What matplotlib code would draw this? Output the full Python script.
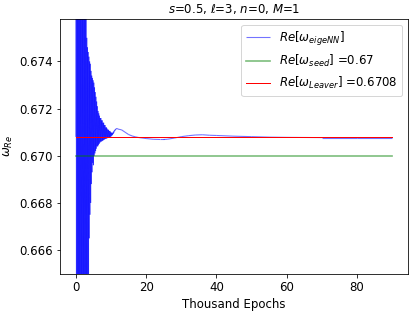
import matplotlib
matplotlib.use("Agg")
import matplotlib.pyplot as plt
from matplotlib.collections import LineCollection
import numpy as np

# Parametre
s, ell, n, M = 0.5, 3, 0, 1
omega_seed = 0.67
omega_leaver = 0.6708

# Tidlig del (hver 100. epoke, 0 - 12 tusen), verdier lest av bildet
tidlig = [
    0.6708, 0.690, 0.650, 0.688, 0.652, 0.686, 0.655, 0.684, 0.656, 0.683,
    0.657, 0.682, 0.658, 0.681, 0.659, 0.680, 0.6595, 0.679, 0.660, 0.6785,
    0.6605, 0.678, 0.661, 0.677, 0.6615, 0.6765, 0.662, 0.676, 0.6625, 0.6758,
    0.6630, 0.6750, 0.6635, 0.6746, 0.6640, 0.6744, 0.6648, 0.6742, 0.6665, 0.6740,
    0.6675, 0.6739, 0.6680, 0.6736, 0.6688, 0.6734, 0.6693, 0.6733, 0.6697, 0.6732,
    0.6696, 0.6731, 0.6700, 0.6729, 0.6701, 0.6727, 0.6702, 0.6725, 0.6703, 0.6723,
    0.6704, 0.6721, 0.6704, 0.6719, 0.67045, 0.6718, 0.6705, 0.6717, 0.67055, 0.6716,
    0.6706, 0.6716, 0.6706, 0.6715, 0.67062, 0.6715, 0.67064, 0.6714, 0.67066, 0.6714,
    0.67068, 0.6713, 0.6707, 0.6713, 0.67072, 0.6712, 0.67072, 0.6712, 0.67074, 0.67115,
    0.67075, 0.6711, 0.67076, 0.6711, 0.67078, 0.67105, 0.67079, 0.67105, 0.6708, 0.6710,
    0.67082, 0.67098, 0.67085, 0.67096, 0.67088, 0.67098, 0.67092, 0.67102, 0.67098, 0.67106,
    0.67104, 0.67110, 0.67108, 0.67113, 0.67112, 0.67115, 0.67114, 0.67116, 0.67115, 0.67114,
    0.67113,
]
tidlig_epoker = np.arange(len(tidlig)) * 0.1

# Sen del
sen_epoker = [13, 14, 15, 16, 17, 18, 20, 22, 24, 25, 26, 28, 30, 32, 34, 36, 38, 40,
              45, 50, 55, 60, 70, 80, 90]
sen = [0.67110, 0.67100, 0.67090, 0.67084, 0.67080, 0.67077, 0.67073, 0.67070, 0.67069,
       0.67069, 0.67070, 0.67075, 0.67081, 0.67085, 0.67088, 0.67089, 0.67087, 0.67086,
       0.67083, 0.67081, 0.67079, 0.67078, 0.67077, 0.67077, 0.67077]

epoker = np.concatenate([tidlig_epoker, sen_epoker])
omega_nn = np.concatenate([tidlig, sen])

plt.rcParams["font.size"] = 11.7
plt.rcParams["lines.linewidth"] = 1.7

fig = plt.figure(figsize=(414 / 72, 311 / 72), dpi=72)
ax = fig.add_axes([0.145, 0.12, 0.8405, 0.819])

# Hver bit for seg, slik at tette overlapp blir mørkere
punkter = np.column_stack([epoker, omega_nn])
segmenter = np.stack([punkter[:-1], punkter[1:]], axis=1)
ax.add_collection(LineCollection(segmenter, colors="blue", alpha=0.55, linewidths=1.1,
                                 label=r"$Re[\omega_{eigeNN}]$"))
ax.plot([epoker[0], epoker[-1]], [omega_seed, omega_seed], color="green", alpha=0.5,
        label=r"$Re[\omega_{seed}]$ =" + str(omega_seed))
ax.plot([epoker[0], epoker[-1]], [omega_leaver, omega_leaver], color="red", lw=1.0,
        label=r"$Re[\omega_{Leaver}]$ =" + str(omega_leaver))

ax.autoscale_view()
ax.set_ylim(omega_seed - 0.005, omega_leaver + 0.005)
ax.set_title(rf"$s$={s}, $\ell$={ell}, $n$={n}, $M$={M}", fontsize=11.7)
ax.set_xlabel("Thousand Epochs")
ax.set_ylabel(r"$\omega_{Re}$")
ax.legend(loc="upper right")

fig.savefig("out.png", dpi=72)
